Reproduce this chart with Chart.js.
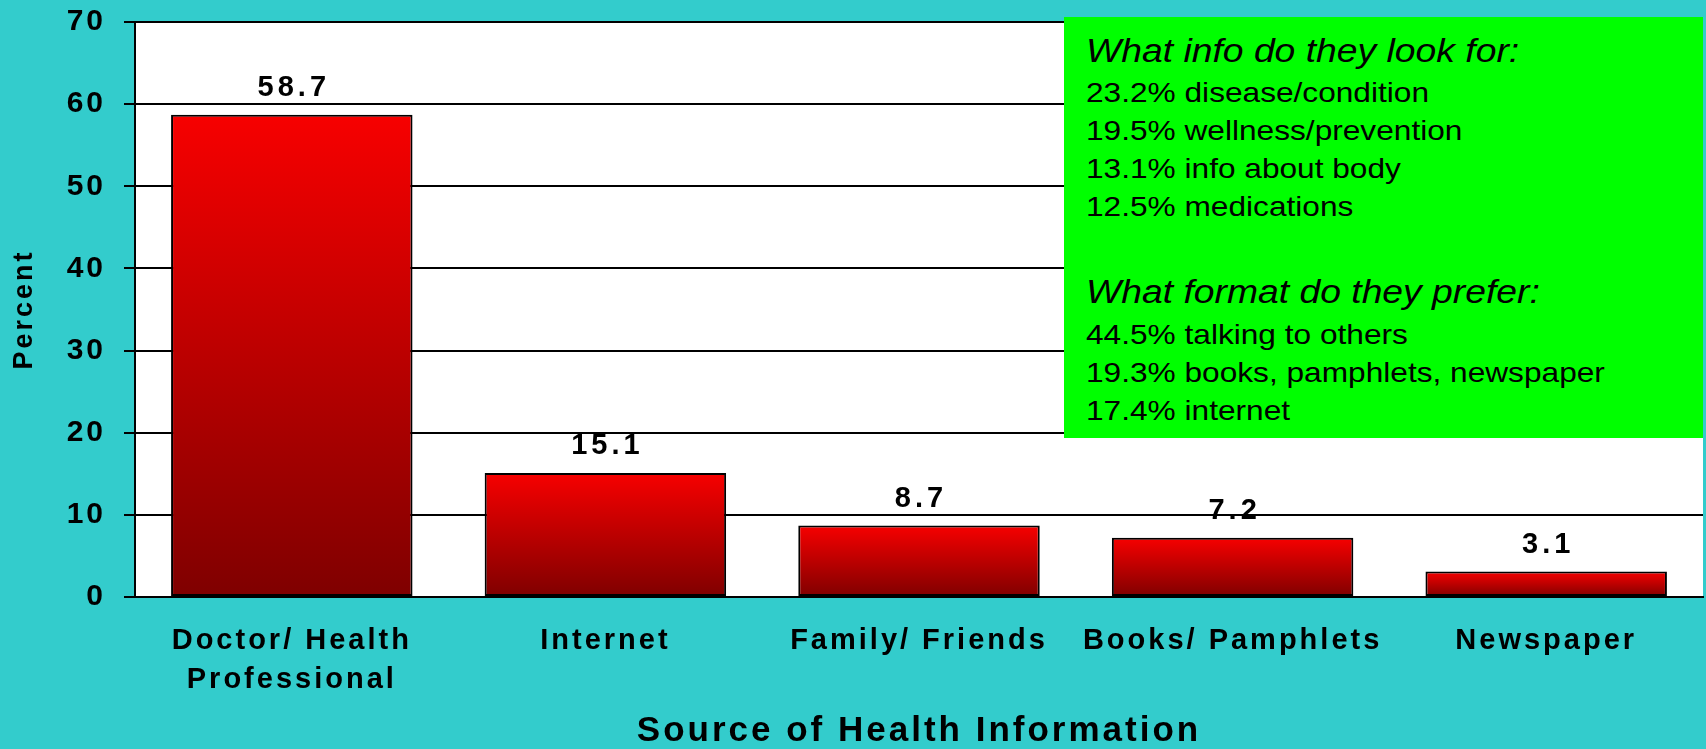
<!DOCTYPE html>
<html>
<head>
<meta charset="utf-8">
<script src="https://cdn.jsdelivr.net/npm/chart.js@4.4.1/dist/chart.umd.min.js"></script>
<style>
  html, body { margin: 0; padding: 0; background: #33cccc; }
  #wrap { position: relative; width: 1706px; height: 749px; }
  #note {
    position: absolute; left: 1064px; top: 17px; width: 639px; height: 421px;
    background: #00ff00; color: #000;
    font-family: "Liberation Sans", Arial, sans-serif;
  }
  #note div {
    position: absolute; left: 22px; white-space: nowrap; line-height: 1;
    transform: scaleX(1.13); transform-origin: left center;
  }
  #note .head { font-size: 33px; font-style: italic; }
  #note .item { font-size: 28px; }
</style>
</head>
<body>
<div id="wrap">
  <canvas id="chart" width="1706" height="749"></canvas>
  <div id="note"></div>
</div>
<script>
// data
const categories = [['Doctor/ Health', 'Professional'], 'Internet', 'Family/ Friends', 'Books/ Pamphlets', 'Newspaper'];
const percents = [58.7, 15.1, 8.7, 7.2, 3.1];
const yTicks = [0, 10, 20, 30, 40, 50, 60, 70];

// text of the green box
const infoTitle = 'What info do they look for:';
const infoLines = ['23.2% disease/condition', '19.5% wellness/prevention', '13.1% info about body', '12.5% medications'];
const formatTitle = 'What format do they prefer:';
const formatLines = ['44.5% talking to others', '19.3% books, pamphlets, newspaper', '17.4% internet'];

const family = '"Liberation Sans", Arial, sans-serif';
Chart.defaults.font.family = family;
Chart.defaults.color = '#000';

// green box, lines placed by their baseline
var note = document.getElementById('note');
function addLine(text, cls, baseline, size) {
    var d = document.createElement('div');
    d.className = cls;
    d.textContent = text;
    d.style.top = (baseline - 0.8465 * size) + 'px';
    note.appendChild(d);
}
addLine(infoTitle, 'head', 45, 33);
infoLines.forEach(function (t, i) { addLine(t, 'item', 86 + i * 38, 28); });
addLine(formatTitle, 'head', 286, 33);
formatLines.forEach(function (t, i) { addLine(t, 'item', 328 + i * 38, 28); });

// white plot area + the spaced-out lettering of the original
const plotBg = {
    id: 'plotBg',
    beforeDraw(chart) {
        const a = chart.chartArea, ctx = chart.ctx;
        ctx.save();
        ctx.fillStyle = '#ffffff';
        ctx.fillRect(a.left, a.top, a.right - a.left, a.bottom - a.top);
        ctx.restore();
        ctx.letterSpacing = '3px';
    },
    afterDraw(chart) {
        chart.ctx.letterSpacing = '0px';
    }
};

// value above each bar
const barLabels = {
    id: 'barLabels',
    afterDatasetsDraw(chart) {
        const ctx = chart.ctx;
        const meta = chart.getDatasetMeta(0);
        ctx.save();
        ctx.letterSpacing = '4px';
        ctx.font = 'bold 29px ' + family;
        ctx.fillStyle = '#000';
        ctx.textAlign = 'center';
        ctx.textBaseline = 'alphabetic';
        meta.data.forEach(function (bar, i) {
            ctx.fillText(percents[i].toFixed(1), bar.x + 2, bar.y - 19);
        });
        ctx.restore();
    }
};

new Chart(document.getElementById('chart'), {
    type: 'bar',
    data: {
        labels: categories,
        datasets: [{
            data: percents,
            backgroundColor: function (c) {
                const chart = c.chart;
                if (!chart.chartArea || c.type !== 'data') return '#f70000';
                const y = chart.scales.y;
                const g = chart.ctx.createLinearGradient(0, y.getPixelForValue(c.raw), 0, y.getPixelForValue(0));
                g.addColorStop(0, '#f70000');
                g.addColorStop(1, '#7f0000');
                return g;
            },
            borderColor: '#000',
            borderWidth: 2,
            borderSkipped: false,
            barPercentage: 0.77,
            categoryPercentage: 1
        }]
    },
    options: {
        responsive: false,
        animation: false,
        devicePixelRatio: 1,
        layout: { padding: { top: 22, right: 3, left: 0, bottom: 0 } },
        plugins: { legend: { display: false }, tooltip: { enabled: false } },
        scales: {
            x: {
                grid: { display: false, drawTicks: false },
                border: { color: '#000', width: 2 },
                ticks: {
                    color: '#000', maxRotation: 0, autoSkip: false, padding: 24,
                    font: { size: 29, weight: 'bold', lineHeight: 1.345 }
                },
                title: {
                    display: true, text: 'Source of Health Information', color: '#000',
                    font: { size: 35, weight: 'bold', lineHeight: 1 }, padding: 0
                },
                afterFit: function (s) {
                    s.height = 152;
                    s.paddingLeft = 0;
                    s.paddingRight = 0;
                }
            },
            y: {
                min: 0, max: 70,
                afterBuildTicks: function (s) { s.ticks = yTicks.map(function (v) { return { value: v }; }); },
                grid: { color: '#000', lineWidth: 2, tickLength: 11 },
                border: { color: '#000', width: 2 },
                ticks: { color: '#000', padding: 18, font: { size: 30, weight: 'bold' } },
                title: {
                    display: true, text: 'Percent', color: '#000',
                    font: { size: 27, weight: 'bold', lineHeight: 1 }, padding: { top: 11, bottom: 0 }
                },
                afterFit: function (s) {
                    s.width = 135;
                    s.paddingTop = 0;
                    s.paddingBottom = 0;
                }
            }
        }
    },
    plugins: [plotBg, barLabels]
});
</script>
</body>
</html>
